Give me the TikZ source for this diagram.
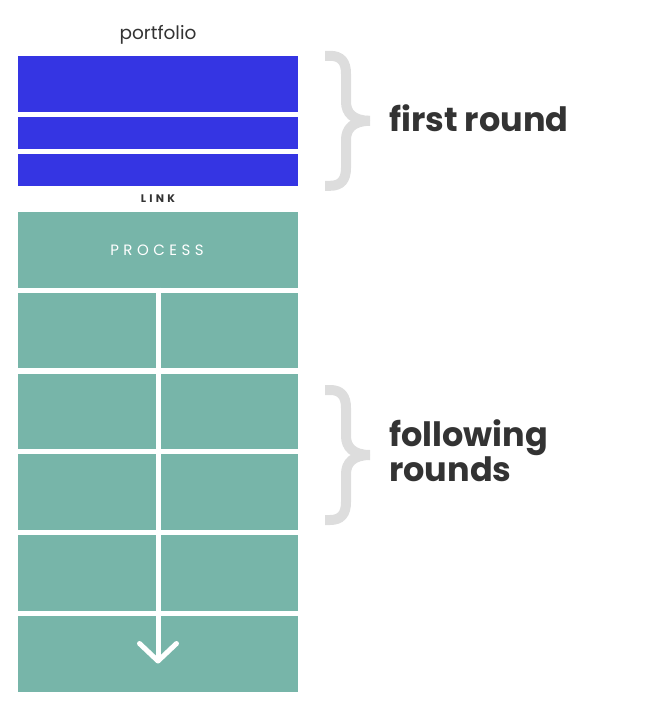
\documentclass[tikz,border=0pt]{standalone}
\usepackage{fontspec}
\setmainfont{Poppins}
\newfontfamily\procfont[LetterSpace=30]{Poppins}
\newfontfamily\linkfont[LetterSpace=30]{Poppins}
\definecolor{bluebox}{HTML}{3535E3}
\definecolor{tealbox}{HTML}{77B5A9}
\definecolor{bracegray}{HTML}{DDDDDD}
\definecolor{darktext}{HTML}{333333}
\tikzset{
  box/.style={rectangle, inner sep=0pt, outer sep=0pt, minimum width=280pt, anchor=north west},
  bluerow/.style={box, fill=bluebox},
  tealrow/.style={box, fill=tealbox, minimum height=75.5pt},
  whiteline/.style={draw=white, line width=5pt},
  bracestroke/.style={draw=bracegray, line width=10pt, line cap=butt},
  gbrace/.pic={
    \draw[bracestroke] (-43,-65) -- (-38,-65) .. controls (-27,-65) and (-22,-59) .. (-22,-47)
      -- (-22,-19) .. controls (-22,-8) and (-15,0) .. (2,0);
    \draw[bracestroke] (-43,65) -- (-38,65) .. controls (-27,65) and (-22,59) .. (-22,47)
      -- (-22,19) .. controls (-22,8) and (-15,0) .. (2,0);
  },
  bigtext/.style={text=darktext, font=\fontsize{33.5}{35}\selectfont\bfseries, inner sep=0pt, anchor=base west}
}
\begin{document}
\begin{tikzpicture}[x=1pt,y=-1pt]
\useasboundingbox (0,0) rectangle (650,710);
% portfolio label
\node[text=darktext, font=\fontsize{18.5}{20}\selectfont, inner sep=0pt, anchor=base] (portfolio) at (158,39.3) {portfolio};
% blue rows
\node[bluerow, minimum height=56pt] (b1) at (18,56) {};
\node[bluerow, minimum height=31.7pt] (b2) at (18,117.3) {};
\node[bluerow, minimum height=31.4pt] (b3) at (18,154.3) {};
% LINK
\node[text=darktext, font=\linkfont\fontsize{11}{12}\selectfont\bfseries, inner sep=0pt, anchor=base] (link) at (158,202.7) {LINK};
% teal rows
\node[tealrow] (r1) at (18,212) {};
\node[tealrow] (r2) at (18,292.8) {};
\node[tealrow] (r3) at (18,373.6) {};
\node[tealrow] (r4) at (18,454.4) {};
\node[tealrow] (r5) at (18,535.2) {};
\node[tealrow] (r6) at (18,616) {};
\node[text=white, font=\procfont\fontsize{15}{16}\selectfont, inner sep=0pt, anchor=base] (process) at (157,255.7) {PROCESS};
% vertical divider and arrow
\coordinate (tip) at (158,661);
\coordinate (al) at (139.5,643.5);
\coordinate (ar) at (176.5,643.5);
\draw[whiteline] (r1.south) -- (tip);
\draw[whiteline, line cap=round, line join=round] (al) -- (tip) -- (ar);
% braces
\pic at (368,120.8) {gbrace};
\pic at (368,455) {gbrace};
% labels
\node[bigtext] (first) at (389,131.7) {first round};
\node[bigtext] (following) at (389,446) {following};
\node[bigtext] (rounds) at (389,481.7) {rounds};
\end{tikzpicture}
\end{document}
